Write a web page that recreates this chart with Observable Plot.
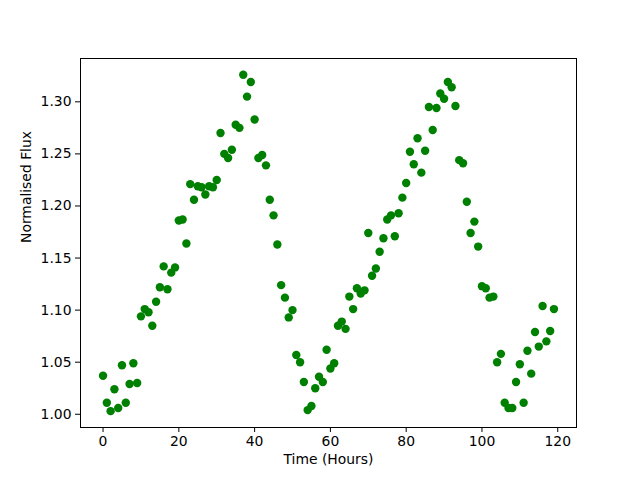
<!DOCTYPE html>
<html>
<head>
<meta charset="utf-8">
<script src="https://cdn.jsdelivr.net/npm/d3@7"></script>
<script src="https://cdn.jsdelivr.net/npm/@observablehq/plot@0.6"></script>
<style>
  html, body { margin: 0; padding: 0; background: #fff; }
</style>
</head>
<body>
<div id="chart"></div>
<script>
const hours = d3.range(0, 120);
const flux = [
  1.037, 1.011, 1.003, 1.024, 1.006, 1.047, 1.011, 1.029, 1.049, 1.030,
  1.094, 1.101, 1.098, 1.085, 1.108, 1.122, 1.142, 1.120, 1.136, 1.141,
  1.186, 1.187, 1.164, 1.221, 1.206, 1.219, 1.218, 1.211, 1.219, 1.218,
  1.225, 1.270, 1.250, 1.246, 1.254, 1.278, 1.275, 1.326, 1.305, 1.319,
  1.283, 1.246, 1.249, 1.239, 1.206, 1.191, 1.163, 1.124, 1.112, 1.093,
  1.100, 1.057, 1.050, 1.031, 1.004, 1.008, 1.025, 1.036, 1.031, 1.062,
  1.044, 1.049, 1.085, 1.089, 1.082, 1.113, 1.101, 1.121, 1.116, 1.119,
  1.174, 1.133, 1.140, 1.156, 1.169, 1.187, 1.191, 1.171, 1.193, 1.208,
  1.222, 1.252, 1.240, 1.265, 1.232, 1.253, 1.295, 1.273, 1.294, 1.308,
  1.303, 1.319, 1.314, 1.296, 1.244, 1.241, 1.204, 1.174, 1.185, 1.161,
  1.123, 1.121, 1.112, 1.113, 1.050, 1.058, 1.011, 1.006, 1.006, 1.031,
  1.048, 1.011, 1.061, 1.039, 1.079, 1.065, 1.104, 1.070, 1.080, 1.101
];
const xTicks = [0, 20, 40, 60, 80, 100, 120];
const yTicks = [1.00, 1.05, 1.10, 1.15, 1.20, 1.25, 1.30];
const xLabel = "Time (Hours)";
const yLabel = "Normalised Flux";

const data = hours.map((h, i) => ({hour: h, flux: flux[i]}));

const chart = Plot.plot({
  width: 640,
  height: 480,
  marginLeft: 80,
  marginRight: 64,
  marginTop: 58,
  marginBottom: 53,
  style: {fontFamily: "DejaVu Sans", fontSize: "13.9px", color: "black", background: "white"},
  x: {domain: [-5.95, 124.95]},
  y: {domain: [0.9873, 1.3416]},
  marks: [
    Plot.dot(data, {x: "hour", y: "flux", r: 4.2, fill: "#008000", stroke: "none"}),
    Plot.frame({stroke: "black", strokeWidth: 1}),
    Plot.axisX(xTicks, {tickSize: 5, tickPadding: 4, label: null, fontSize: 13.9}),
    Plot.axisY(yTicks, {tickSize: 5, tickPadding: 4, label: null, tickFormat: d3.format(".2f"), fontSize: 13.9}),
    Plot.text([xLabel], {frameAnchor: "bottom", dy: 36, fontSize: 13.9, fill: "black"}),
    Plot.text([yLabel], {frameAnchor: "left", dx: -54, rotate: -90, fontSize: 13.9, fill: "black"})
  ]
});
document.getElementById("chart").appendChild(chart);
</script>
</body>
</html>
